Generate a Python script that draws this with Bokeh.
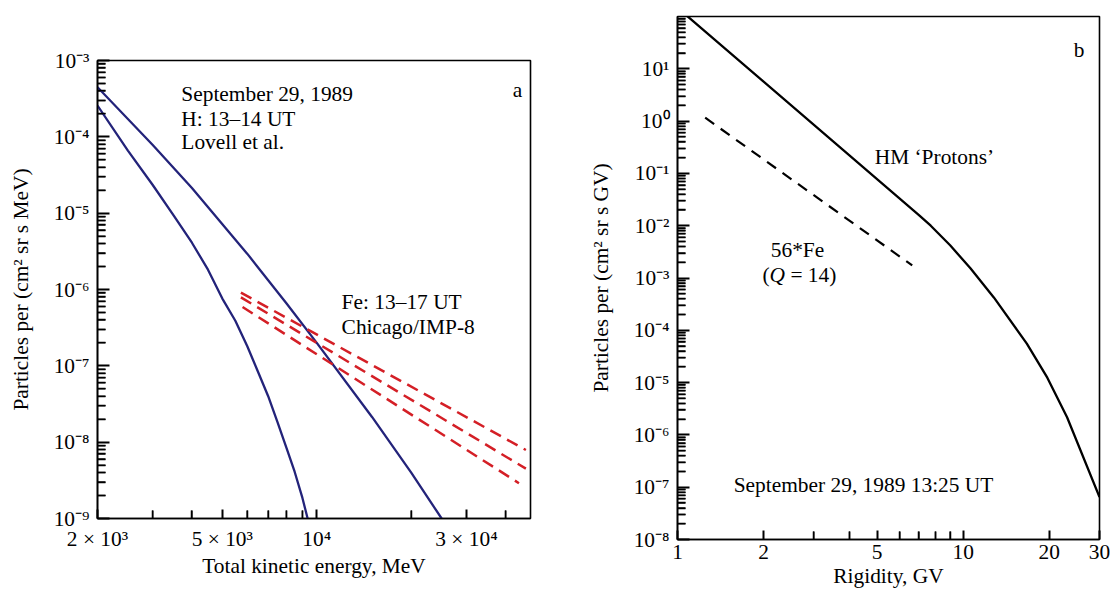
import math
from bokeh.plotting import figure
from bokeh.layouts import row
from bokeh.models import FixedTicker, Label, Range1d
from bokeh.embed import file_html
from bokeh.resources import INLINE

FONT = "Liberation Serif"
FS = "21.4px"

# ---------------- Panel a data ----------------
h_energy_upper = [2000, 3000, 4000, 6000, 8000, 10000, 15000, 20000, 25000]
h_flux_upper = [4.47e-4, 7.8e-5, 2.14e-5, 2.95e-6, 6.6e-7, 2.0e-7, 2.14e-8, 4.0e-9, 1.0e-9]
h_energy_lower = [2000, 2500, 3000, 3500, 4000, 4500, 5000, 5500, 6000, 6500, 7000, 7500, 8000, 8500, 9000, 9350]
h_flux_lower = [2.57e-4, 6.6e-5, 2.34e-5, 9.3e-6, 4.1e-6, 1.82e-6, 7.6e-7, 3.9e-7, 1.82e-7,
                8.3e-8, 4.0e-8, 1.82e-8, 8.5e-9, 4.1e-9, 1.86e-9, 1.0e-9]
fe_energy = [[5730, 46400], [5730, 46400], [5800, 44100]]
fe_flux = [[9.1e-7, 7.9e-9], [7.9e-7, 4.5e-9], [5.9e-7, 2.9e-9]]

a_x_major = [2000, 5000, 10000, 30000]
a_x_labels = ["2 × 10³", "5 × 10³", "10⁴", "3 × 10⁴"]
a_x_minor = [3000, 4000, 6000, 7000, 8000, 9000, 20000, 40000]
a_y_exps = [-9, -8, -7, -6, -5, -4, -3]

# ---------------- Panel b data ----------------
hm_rigidity = [1.0, 7.0, 7.7, 9.0, 10.6, 12.8, 16.7, 19.7, 23.1, 30.0]
hm_flux = [147, 0.016, 0.010, 4.23e-3, 1.53e-3, 4.25e-4, 5.57e-5, 1.24e-5, 2.17e-6, 6.5e-8]
fe_rigidity = [1.25, 6.63]
fe_flux_b = [1.16, 1.74e-3]

b_x_major = [1, 2, 5, 10, 20, 30]
b_x_labels = ["1", "2", "5", "10", "20", "30"]
b_x_minor = [3, 4, 6, 7, 8, 9]
b_y_exps = [-8, -7, -6, -5, -4, -3, -2, -1, 0, 1]

SUP = str.maketrans("0123456789-", "⁰¹²³⁴⁵⁶⁷⁸⁹⁻")


def pow_label(e):
    return "10" + str(e).translate(SUP)


def style_axis(ax, tick_in=12):
    ax.axis_line_width = 1.6
    ax.axis_line_color = "black"
    ax.major_tick_in = tick_in
    ax.major_tick_out = 0
    ax.minor_tick_in = 8
    ax.minor_tick_out = 0
    ax.major_tick_line_width = 2
    ax.minor_tick_line_width = 1.5
    ax.major_tick_line_color = "black"
    ax.minor_tick_line_color = "black"
    ax.major_label_text_font = FONT
    ax.major_label_text_font_size = FS
    ax.major_label_text_color = "black"
    ax.axis_label_text_font = FONT
    ax.axis_label_text_font_size = FS
    ax.axis_label_text_font_style = "normal"
    ax.axis_label_text_color = "black"


def minor_ticks(p, xs_minor, ys_minor, x0, y0):
    # dash markers centred on the frame edge: the inner half shows as an inward tick
    p.scatter(x=xs_minor, y=[y0] * len(xs_minor), marker="dash", size=16,
              angle=math.pi / 2, line_color="black", line_width=1.5)
    p.scatter(x=[x0] * len(ys_minor), y=ys_minor, marker="dash", size=16,
              angle=0, line_color="black", line_width=1.5)


def style_fig(p):
    p.xgrid.visible = False
    p.ygrid.visible = False
    p.outline_line_color = "black"
    p.outline_line_width = 1.6
    p.outline_line_alpha = 1.0
    p.background_fill_color = "white"
    p.border_fill_color = "white"
    try:
        p.frame_align = False
    except Exception:
        pass


def add_text(p, x, y, text, align="left", baseline="alphabetic", x_offset=0, y_offset=0, style="normal"):
    p.add_layout(Label(x=x, y=y, text=text, text_font=FONT, text_font_size=FS,
                       text_font_style=style, text_color="black", text_align=align,
                       text_baseline=baseline, x_offset=x_offset, y_offset=y_offset))


# ---------------- Panel a ----------------
pa = figure(width=580, height=597, x_axis_type="log", y_axis_type="log",
            x_range=Range1d(2000, 48000), y_range=Range1d(1e-9, 1e-3),
            output_backend="svg", toolbar_location=None,
            min_border_left=97, min_border_right=50, min_border_top=60, min_border_bottom=79)
style_fig(pa)

a_y_major = [10.0 ** e for e in a_y_exps]
a_y_minor = [k * 10.0 ** e for e in a_y_exps[:-1] for k in range(2, 10)]
pa.xaxis.ticker = FixedTicker(ticks=a_x_major, minor_ticks=a_x_minor)
pa.xaxis.major_label_overrides = {v: s for v, s in zip(a_x_major, a_x_labels)}
pa.yaxis.ticker = FixedTicker(ticks=a_y_major, minor_ticks=a_y_minor)
pa.yaxis.major_label_overrides = {v: pow_label(e) for v, e in zip(a_y_major, a_y_exps)}
pa.xaxis.axis_label = "Total kinetic energy, MeV"
pa.yaxis.axis_label = "Particles per (cm² sr s MeV)"
style_axis(pa.xaxis[0], tick_in=9)
style_axis(pa.yaxis[0], tick_in=12)
pa.xaxis.major_label_standoff = 8
pa.yaxis.major_label_standoff = 8
pa.xaxis.axis_label_standoff = 0
pa.yaxis.axis_label_standoff = 18
minor_ticks(pa, a_x_minor, a_y_minor, 2000, 1e-9)

blue = "#23237a"
red = "#d41f26"
pa.line(h_energy_upper, h_flux_upper, line_color=blue, line_width=2.3)
pa.line(h_energy_lower, h_flux_lower, line_color=blue, line_width=2.3)
for xs, ys in zip(fe_energy, fe_flux):
    pa.line(xs, ys, line_color=red, line_width=2.5, line_dash="12 7")

add_text(pa, 3700, 10 ** -3.436, "September 29, 1989")
add_text(pa, 3700, 10 ** -3.764, "H: 13–14 UT")
add_text(pa, 3700, 10 ** -4.071, "Lovell et al.")
add_text(pa, 42100, 10 ** -3.393, "a")
add_text(pa, 12000, 10 ** -6.168, "Fe: 13–17 UT")
add_text(pa, 12000, 10 ** -6.495, "Chicago/IMP-8")

# ---------------- Panel b ----------------
pb = figure(width=533, height=597, x_axis_type="log", y_axis_type="log",
            x_range=Range1d(1, 30), y_range=Range1d(1e-8, 1e2),
            output_backend="svg", toolbar_location=None,
            min_border_left=97, min_border_right=14, min_border_top=16, min_border_bottom=58)
style_fig(pb)

b_y_major = [10.0 ** e for e in b_y_exps]
b_y_minor = [k * 10.0 ** e for e in b_y_exps for k in range(2, 10)]
pb.xaxis.ticker = FixedTicker(ticks=b_x_major, minor_ticks=b_x_minor)
pb.xaxis.major_label_overrides = {v: s for v, s in zip(b_x_major, b_x_labels)}
pb.yaxis.ticker = FixedTicker(ticks=b_y_major, minor_ticks=b_y_minor)
pb.yaxis.major_label_overrides = {v: pow_label(e) for v, e in zip(b_y_major, b_y_exps)}
pb.xaxis.axis_label = "Rigidity, GV"
pb.yaxis.axis_label = "Particles per (cm² sr s GV)"
style_axis(pb.xaxis[0], tick_in=9)
style_axis(pb.yaxis[0], tick_in=12)
pb.xaxis.major_label_standoff = 5
pb.xaxis.axis_label_standoff = 2
pb.yaxis.major_label_standoff = 8
pb.yaxis.axis_label_standoff = 18
minor_ticks(pb, b_x_minor, b_y_minor, 1, 1e-8)

pb.line(hm_rigidity, hm_flux, line_color="black", line_width=2.3)
pb.line(fe_rigidity, fe_flux_b, line_color="black", line_width=2.2, line_dash="11 8")

add_text(pb, 24.4, 22.4, "b")
add_text(pb, 4.9, 10 ** -0.68, "HM ‘Protons’")
add_text(pb, 2.63, 10 ** -2.47, "56*Fe", align="center")
add_text(pb, 1.983, 10 ** -2.95, "(")
add_text(pb, 1.983, 10 ** -2.95, "Q", x_offset=7, style="italic")
add_text(pb, 1.983, 10 ** -2.95, "= 14)", x_offset=28)
add_text(pb, 1.573, 10 ** -6.967, "September 29, 1989 13:25 UT")

layout = row(pa, pb)
open("out.html", "w").write(file_html(layout, INLINE))
